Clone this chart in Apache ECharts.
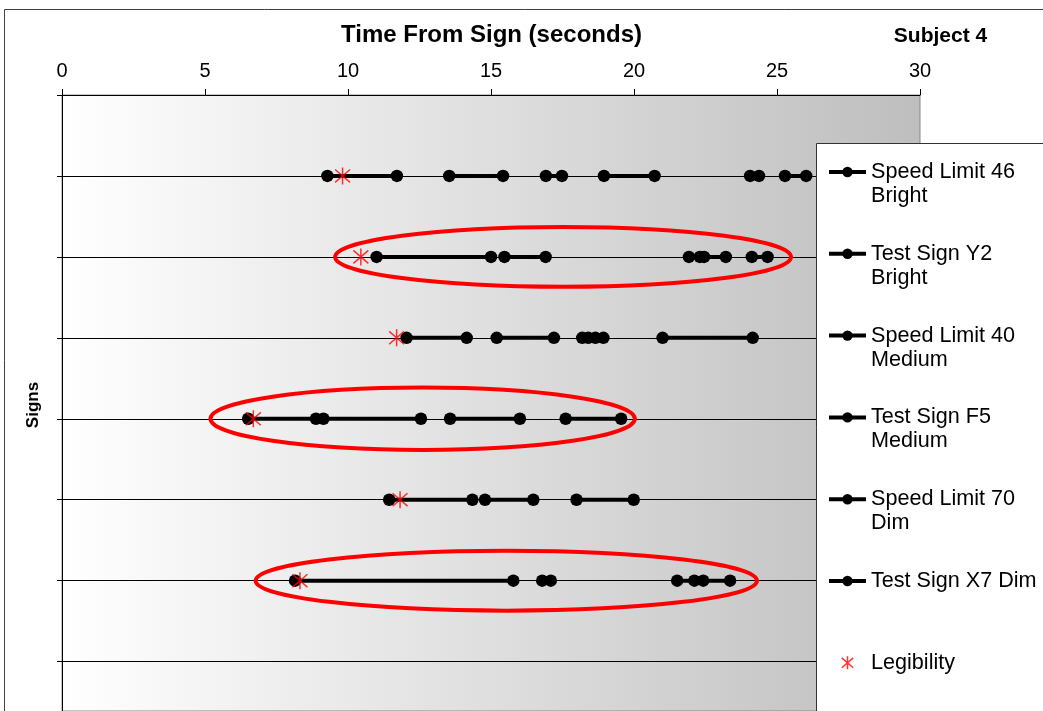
<!DOCTYPE html>
<html>
<head>
<meta charset="utf-8">
<title>Time From Sign - Subject 4</title>
<script src="https://cdn.jsdelivr.net/npm/echarts@6/dist/echarts.min.js"></script>
<style>
  html, body { margin: 0; padding: 0; background: #ffffff; }
  #chart { width: 1043px; height: 711px; }
</style>
</head>
<body>
<div id="chart"></div>
<script>
// Sign names (one row each, top to bottom)
const signNames = [
  'Speed Limit 46\nBright',
  'Test Sign Y2\nBright',
  'Speed Limit 40\nMedium',
  'Test Sign F5\nMedium',
  'Speed Limit 70\nDim',
  'Test Sign X7 Dim'
];

// Glance intervals per sign: [start, end] in seconds from the sign
const speedLimit46Bright = [[9.28, 11.71], [13.54, 15.42], [16.92, 17.48], [18.95, 20.72], [24.06, 24.37], [25.28, 26.02]];
const testSignY2Bright   = [[11.00, 15.00], [15.47, 16.91], [21.92, 22.30], [22.45, 23.21], [24.12, 24.67]];
const speedLimit40Medium = [[12.05, 14.15], [15.20, 17.20], [18.19, 18.40], [18.65, 18.93], [21.00, 24.15]];
const testSignF5Medium   = [[6.51, 8.88], [9.14, 12.55], [13.57, 16.01], [17.61, 19.55]];
const speedLimit70Dim    = [[11.44, 14.35], [14.79, 16.48], [17.99, 19.99]];
const testSignX7Dim      = [[8.15, 15.78], [16.79, 17.09], [21.51, 22.11], [22.42, 23.36]];

// Legibility moment for each sign (seconds)
const legibility = [9.81, 10.45, 11.70, 6.69, 11.82, 8.32];

// Highlighted test-sign rows: row number, time span and half height (row units)
const highlightRow  = [2, 4, 6];
const highlightFrom = [9.55, 5.19, 6.77];
const highlightTo   = [25.49, 20.03, 24.30];
const highlightHalf = [0.37, 0.385, 0.37];

// Axis ranges and tick steps (the row axis runs on past the bottom edge)
const timeTicks = { min: 0, max: 30, interval: 5 };
const rowTicks = { min: 0, max: 7.61, interval: 1 };

const glances = [speedLimit46Bright, testSignY2Bright, speedLimit40Medium,
                 testSignF5Medium, speedLimit70Dim, testSignX7Dim];

const FONT = 'Liberation Sans, Arial, sans-serif';

// Each glance becomes a segment; nulls break the line between glances
function segments(list, row) {
  const out = [];
  list.forEach((g, i) => {
    if (i > 0) out.push([null, null]);
    out.push([g[0], row], [g[1], row]);
  });
  return out;
}

const asterisk = 'path://M5 0L5 10M0.6 1.2L9.4 8.8M9.4 1.2L0.6 8.8';

const series = glances.map((list, i) => ({
  name: signNames[i],
  type: 'line',
  data: segments(list, i + 1),
  connectNulls: false,
  symbol: 'circle',
  symbolSize: 12.5,
  showAllSymbol: true,
  lineStyle: { color: '#000', width: 4 },
  itemStyle: { color: '#000' },
  emphasis: { disabled: true },
  z: 3
}));

series.push({
  name: 'Legibility',
  type: 'scatter',
  data: legibility.map((v, i) => [v, i + 1]),
  symbol: asterisk,
  symbolSize: 17,
  symbolKeepAspect: true,
  itemStyle: { color: 'transparent', borderColor: '#ff0000', borderWidth: 1.5 },
  emphasis: { disabled: true },
  z: 4
});

series.push({
  name: 'highlight',
  type: 'custom',
  data: highlightRow.map((r, i) => [highlightFrom[i], highlightTo[i], r, highlightHalf[i]]),
  encode: { x: [0, 1], y: 2 },
  clip: false,
  silent: true,
  z: 5,
  renderItem: function (params, api) {
    const from = api.value(0), to = api.value(1), row = api.value(2), half = api.value(3);
    const c = api.coord([(from + to) / 2, row]);
    const rx = api.size([to - from, 0])[0] / 2;
    const ry = api.size([0, half])[1];
    return {
      type: 'ellipse',
      shape: { cx: c[0], cy: c[1], rx: rx, ry: ry },
      style: { fill: 'none', stroke: '#ff0000', lineWidth: 4 }
    };
  }
});

const legendData = signNames.map(n => ({ name: n }));
legendData.push({
  name: 'Legibility',
  icon: asterisk,
  itemStyle: { color: 'transparent', borderColor: '#ff0000', borderWidth: 1.5 }
});

const chart = echarts.init(document.getElementById('chart'), null, { renderer: 'canvas' });
chart.setOption({
  animation: false,
  backgroundColor: '#ffffff',
  grid: {
    left: 62, top: 95, width: 858, bottom: 0,
    show: true,
    borderColor: '#888888',
    borderWidth: 1,
    backgroundColor: {
      type: 'linear', x: 0, y: 0, x2: 1, y2: 0,
      colorStops: [{ offset: 0, color: '#ffffff' }, { offset: 1, color: '#bebebe' }]
    }
  },
  xAxis: {
    type: 'value',
    position: 'top',
    min: timeTicks.min, max: timeTicks.max, interval: timeTicks.interval,
    axisLine: { show: true, lineStyle: { color: '#000', width: 1 } },
    axisTick: { show: true, inside: false, length: 6, lineStyle: { color: '#000' } },
    axisLabel: { color: '#000', fontFamily: FONT, fontSize: 20, margin: 14 },
    splitLine: { show: false }
  },
  yAxis: {
    type: 'value',
    inverse: true,
    min: rowTicks.min, max: rowTicks.max, interval: rowTicks.interval,
    axisLine: { show: true, lineStyle: { color: '#000', width: 1 } },
    axisTick: { show: true, inside: false, length: 5, lineStyle: { color: '#000' } },
    axisLabel: { show: false },
    splitLine: { show: true, lineStyle: { color: '#000', width: 1 } }
  },
  legend: {
    orient: 'vertical',
    left: 827, top: 136,
    padding: 0,
    itemWidth: 37, itemHeight: 13, itemGap: 9.8,
    selectedMode: false,
    z: 10,
    // leading / trailing blank lines keep every entry 3 lines tall with the
    // first text line level with the icon
    formatter: function (name) {
      return name.indexOf('\n') >= 0 ? '\n' + name : '\n' + name + '\n';
    },
    textStyle: { color: '#000', fontFamily: FONT, fontSize: 21.6, lineHeight: 24 },
    lineStyle: { width: 4 },
    data: legendData
  },
  graphic: [
    {
      type: 'rect', z: 0, silent: true,
      shape: { x: 4.5, y: 9.5, width: 1100, height: 800 },
      style: { fill: 'none', stroke: '#404040', lineWidth: 1 }
    },
    {
      type: 'rect', z: 8, silent: true,
      shape: { x: 816.5, y: 143.5, width: 300, height: 700 },
      style: { fill: '#ffffff', stroke: '#333333', lineWidth: 1 }
    },
    {
      type: 'text', z: 8, silent: true, x: 491.5, y: 35,
      style: { text: 'Time From Sign (seconds)', font: 'bold 24px ' + FONT, fill: '#000', align: 'center', verticalAlign: 'middle' }
    },
    {
      type: 'text', z: 8, silent: true, x: 940.5, y: 36,
      style: { text: 'Subject 4', font: 'bold 21px ' + FONT, fill: '#000', align: 'center', verticalAlign: 'middle' }
    },
    {
      type: 'text', z: 8, silent: true, x: 33, y: 405, rotation: Math.PI / 2,
      style: { text: 'Signs', font: 'bold 17px ' + FONT, fill: '#000', align: 'center', verticalAlign: 'middle' }
    }
  ],
  series: series
});
</script>
</body>
</html>
